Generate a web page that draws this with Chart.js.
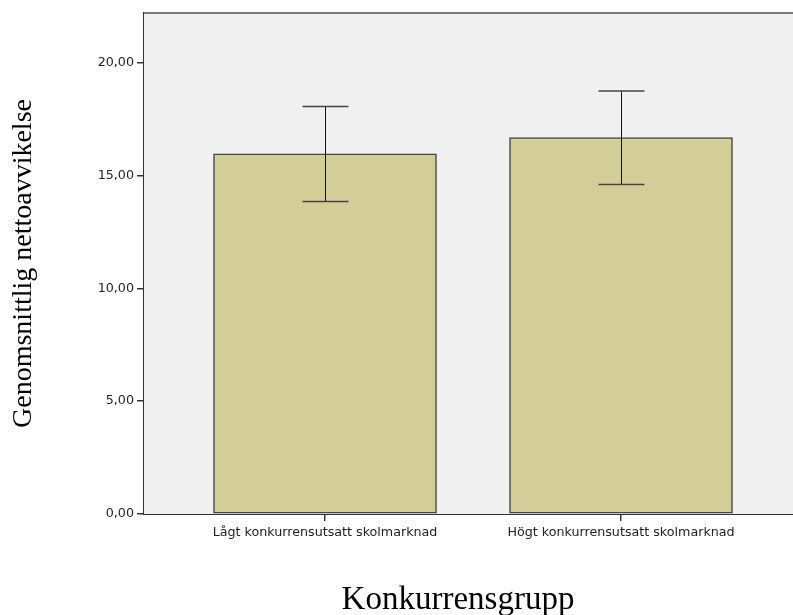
<!DOCTYPE html>
<html>
<head>
<meta charset="utf-8">
<script src="https://cdn.jsdelivr.net/npm/chart.js@4/dist/chart.umd.min.js"></script>
<style>
  html, body { margin: 0; padding: 0; background: #fff; overflow: hidden; }
</style>
</head>
<body>
<canvas id="chart" width="793" height="615"></canvas>
<script>
// Data
const categories = ['Lågt konkurrensutsatt skolmarknad', 'Högt konkurrensutsatt skolmarknad'];
const xPos = [0, 1];
const means = [15.96, 16.68];
const upper = [18.06, 18.74];
const lower = [13.85, 14.60];
const yTicks = [0, 5, 10, 15, 20];
const xTitle = 'Konkurrensgrupp';

const fmt = v => v.toFixed(2).replace('.', ',');

// Grey plot background, error bars, and the x title (sits a bit left of centre in the original)
const plotFrame = {
  id: 'plotFrame',
  beforeDatasetsDraw(chart) {
    const { ctx, chartArea: a } = chart;
    ctx.save();
    ctx.fillStyle = '#f0f0f0';
    ctx.fillRect(a.left, a.top, a.right - a.left, a.bottom - a.top);
    ctx.strokeStyle = '#7c7c7c';
    ctx.lineWidth = 2;
    ctx.beginPath();
    ctx.moveTo(a.left, a.top);
    ctx.lineTo(a.right, a.top);
    ctx.stroke();
    ctx.restore();
  },
  afterDatasetsDraw(chart) {
    const { ctx, scales: { x, y } } = chart;
    ctx.save();
    for (let i = 0; i < means.length; i++) {
      const px = Math.round(x.getPixelForValue(xPos[i])) + 0.5;
      const hi = y.getPixelForValue(upper[i]);
      const lo = y.getPixelForValue(lower[i]);
      ctx.strokeStyle = '#111';
      ctx.lineWidth = 1;
      ctx.beginPath();
      ctx.moveTo(px, hi);
      ctx.lineTo(px, lo);
      ctx.stroke();
      ctx.strokeStyle = '#444';
      ctx.lineWidth = 1.5;
      ctx.beginPath();
      ctx.moveTo(px - 23, hi);
      ctx.lineTo(px + 23, hi);
      ctx.moveTo(px - 23, lo);
      ctx.lineTo(px + 23, lo);
      ctx.stroke();
    }
    ctx.restore();
  },
  afterDraw(chart) {
    const { ctx } = chart;
    ctx.save();
    ctx.font = '33px "Liberation Serif"';
    ctx.fillStyle = '#000';
    ctx.textAlign = 'center';
    ctx.textBaseline = 'alphabetic';
    ctx.fillText(xTitle, 458, 609);
    ctx.restore();
  }
};

new Chart(document.getElementById('chart'), {
  type: 'bar',
  data: {
    datasets: [{
      data: xPos.map((v, i) => ({ x: v, y: means[i] })),
      backgroundColor: '#d3ce98',
      borderColor: '#454545',
      borderWidth: 1.5,
      borderSkipped: false,
      barThickness: 223
    }]
  },
  options: {
    responsive: false,
    animation: false,
    layout: { padding: { top: 13, right: 0, left: 0, bottom: 0 } },
    plugins: { legend: { display: false }, tooltip: { enabled: false } },
    scales: {
      x: {
        type: 'linear',
        offset: false,
        min: -0.6115,
        max: 1.581,
        afterBuildTicks: s => { s.ticks = xPos.map(v => ({ value: v })); },
        afterFit: s => { s.height = 101; },
        ticks: {
          callback: (v, i) => categories[i],
          font: { family: 'DejaVu Sans', size: 12.7 },
          color: '#222',
          padding: 4,
          maxRotation: 0,
          autoSkip: false
        },
        grid: { display: true, offset: false, drawOnChartArea: false, drawTicks: true, tickLength: 7, color: '#333', lineWidth: 1.5 },
        border: { display: true, color: '#333', width: 2 },
        title: { display: false }
      },
      y: {
        min: 0,
        max: 22.2,
        afterBuildTicks: s => { s.ticks = yTicks.map(v => ({ value: v })); },
        afterFit: s => { s.width = 144; },
        ticks: {
          callback: v => fmt(v),
          font: { family: 'DejaVu Sans', size: 12.7 },
          color: '#222',
          padding: 3
        },
        grid: { display: true, drawOnChartArea: false, drawTicks: true, tickLength: 7, color: '#333', lineWidth: 1.5 },
        border: { display: true, color: '#333', width: 2 },
        title: {
          display: true,
          text: 'Genomsnittlig nettoavvikelse',
          font: { family: 'Liberation Serif', size: 28 },
          color: '#000',
          padding: { top: 7, bottom: 0 }
        }
      }
    }
  },
  plugins: [plotFrame]
});
</script>
</body>
</html>
